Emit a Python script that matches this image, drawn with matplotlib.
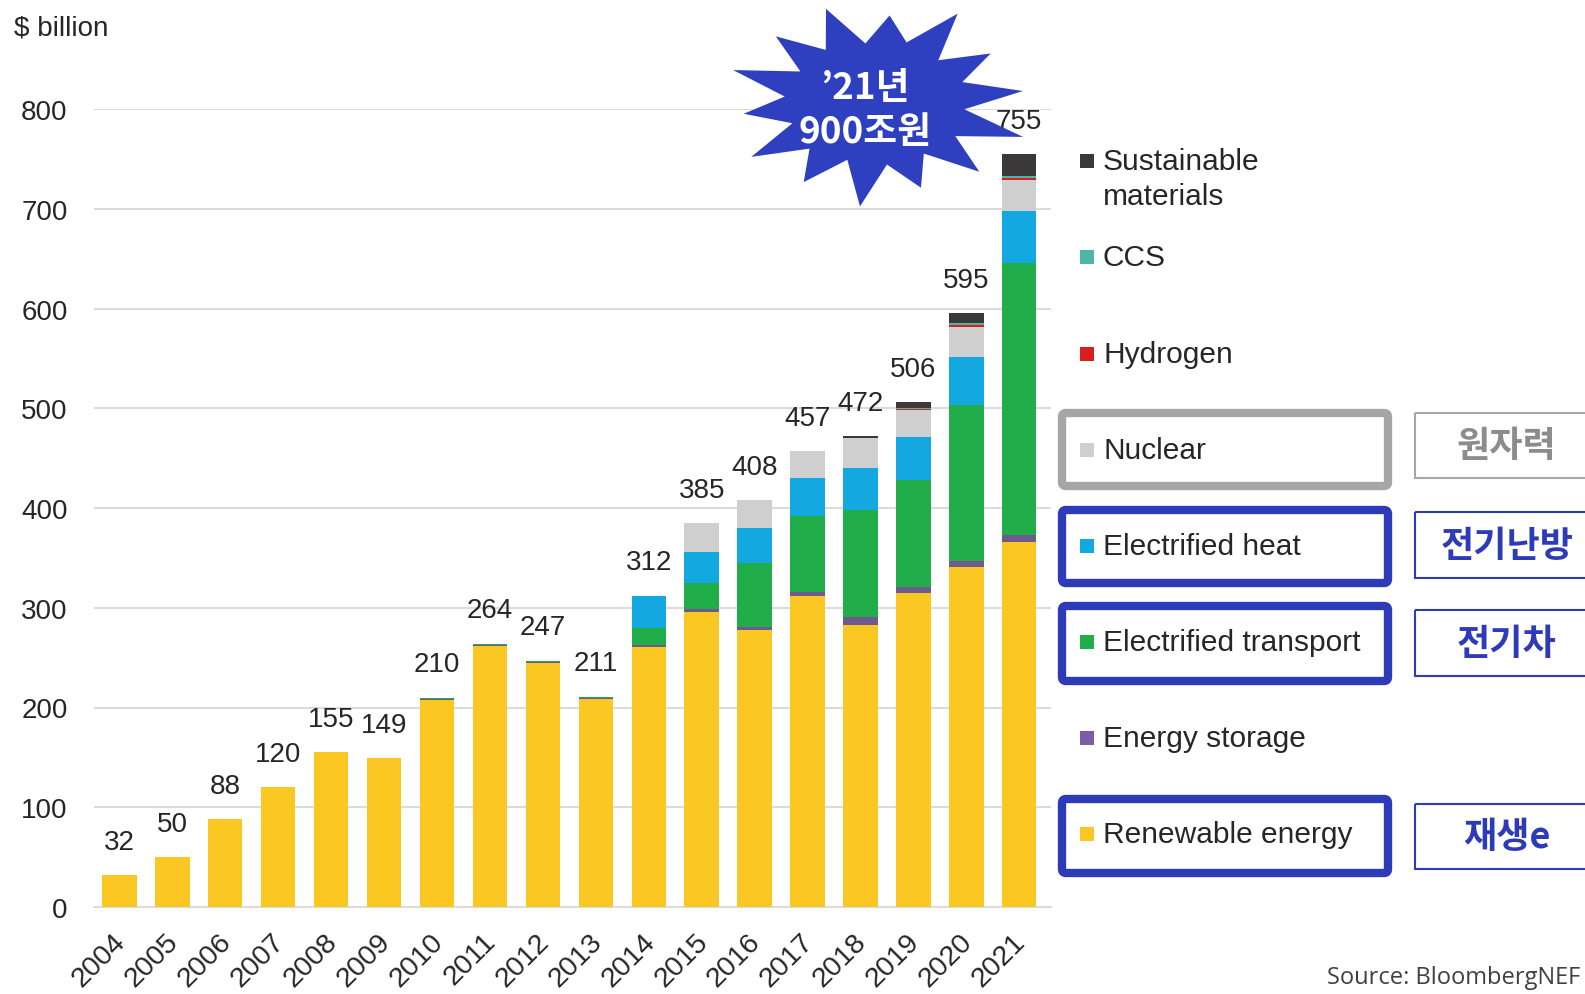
import numpy as np
import matplotlib
matplotlib.use("Agg")
import matplotlib.pyplot as plt
from matplotlib.patches import Rectangle, FancyBboxPatch, Polygon

# ── data ($ billion) ──────────────────────────────────────────────────────────
years = [str(y) for y in range(2004, 2022)]
totals = [32, 50, 88, 120, 155, 149, 210, 264, 247, 211, 312, 385, 408, 457, 472, 506, 595, 755]

renewable   = [32, 50, 88, 120, 155, 149, 208, 262, 245, 209, 261, 296, 278, 312, 283, 315, 341, 366]
storage     = [0, 0, 0, 0, 0, 0, 1, 1, 1, 1, 2, 3, 3, 4, 8, 6, 6, 7]
transport   = [0, 0, 0, 0, 0, 0, 1, 1, 1, 1, 17, 26, 64, 76, 107, 107, 156, 273]
heat        = [0, 0, 0, 0, 0, 0, 0, 0, 0, 0, 32, 31, 35, 38, 42, 43, 48, 52]
nuclear     = [0, 0, 0, 0, 0, 0, 0, 0, 0, 0, 0, 29, 28, 27, 30, 27, 30, 31]
hydrogen    = [0, 0, 0, 0, 0, 0, 0, 0, 0, 0, 0, 0, 0, 0, 0, 1, 2, 2]
ccs         = [0, 0, 0, 0, 0, 0, 0, 0, 0, 0, 0, 0, 0, 0, 0, 1, 2, 2]
sustainable = [0, 0, 0, 0, 0, 0, 0, 0, 0, 0, 0, 0, 0, 0, 2, 6, 10, 22]

series = [
    ("Renewable energy", renewable, "#FAC723"),
    ("Energy storage", storage, "#6E5A8C"),
    ("Electrified transport", transport, "#21AE4A"),
    ("Electrified heat", heat, "#14A8E0"),
    ("Nuclear", nuclear, "#D0CFCF"),
    ("Hydrogen", hydrogen, "#D81E1E"),
    ("CCS", ccs, "#4DB6A9"),
    ("Sustainable\nmaterials", sustainable, "#3A3838"),
]
legend_sq = {"Energy storage": "#7B5CA6"}

korean_tags = ["원자력", "전기난방", "전기차", "재생e"]

# ── style ─────────────────────────────────────────────────────────────────────
plt.rcParams["font.family"] = ["Liberation Sans", "Noto Sans CJK KR", "DejaVu Sans"]
TXT = "#262626"
BLUE = "#2E3BB8"
GRID = "#DCDCDC"

W, H = 1585, 995
fig = plt.figure(figsize=(W / 100, H / 100), dpi=100)
fig.patch.set_facecolor("white")

ax = fig.add_axes([94 / W, 1 - 908 / H, (1051 - 94) / W, (908 - 110) / H])
x = np.arange(len(years))
bottom = np.zeros(len(years))
for name, vals, col in series:
    v = np.array(vals, dtype=float)
    ax.bar(x, v, bottom=bottom, width=0.65, color=col, zorder=3, linewidth=0)
    bottom += v

for xi, t in zip(x, totals):
    ax.annotate(str(t), (xi, t), xytext=(0, 24), textcoords="offset points",
                ha="center", va="center", fontsize=20, color=TXT, zorder=4)

ax.set_xlim(-0.48, len(years) - 0.4)
ax.set_ylim(0, 800)
ax.set_yticks(range(0, 801, 100))
ax.set_xticks(x)
ax.set_xticklabels([])
# rotated year labels placed by hand so they sit like the original
for xi, yr in zip(x, years):
    ax.annotate(yr, (xi, 0), xytext=(-5, -15), textcoords="offset points",
                rotation=45, ha="right", va="top", rotation_mode="anchor",
                fontsize=20.5, color=TXT, annotation_clip=False)
ax.tick_params(axis="y", length=0, pad=19, labelsize=20, labelcolor=TXT)
ax.tick_params(axis="x", length=0)
ax.yaxis.grid(True, color=GRID, linewidth=1.5, zorder=0)
for s in ["top", "right", "left"]:
    ax.spines[s].set_visible(False)
ax.spines["bottom"].set_color(GRID)
ax.spines["bottom"].set_linewidth(1.5)

# ── overlay in pixel coordinates ──────────────────────────────────────────────
ov = fig.add_axes([0, 0, 1, 1], zorder=5)
ov.set_xlim(0, W)
ov.set_ylim(H, 0)
ov.axis("off")
ov.patch.set_alpha(0)

ov.text(14, 28, "$ billion", fontsize=20, color=TXT, ha="left", va="center")

# legend
leg_y = [835, 739, 643, 547, 451, 355, 258, 162]
for (name, vals, col), ly in zip(series, leg_y):
    c = legend_sq.get(name, col)
    ov.add_patch(Rectangle((1080, ly - 7), 14, 14, color=c, lw=0))
    ov.text(1103, ly, name.split("\n")[0], fontsize=21.5, color=TXT, ha="left", va="center")
    if "\n" in name:
        ov.text(1103, ly + 35, name.split("\n")[1], fontsize=21.5, color=TXT,
                ha="left", va="center")

# highlight boxes around legend entries
boxes = [(410, 491, "#A6A6A6"), (507, 588, BLUE), (603, 686, BLUE), (796, 878, BLUE)]
for y0, y1, c in boxes:
    ov.add_patch(FancyBboxPatch((1062, y0 + 4), 1388 - 1062, y1 - y0 - 8,
                                boxstyle="round,pad=0,rounding_size=4",
                                fill=False, ec=c, lw=6))

# Korean tags
tag_boxes = [(414, 479, "#A6A6A6", "#8C8C8C"), (513, 579, BLUE, BLUE),
             (611, 677, BLUE, BLUE), (805, 870, BLUE, BLUE)]
for (y0, y1, ec, tc), tag in zip(tag_boxes, korean_tags):
    ov.add_patch(Rectangle((1415, y0), 300, y1 - y0, fill=False, ec=ec, lw=1.5))
    ov.text(1507, (y0 + y1) / 2, tag, fontsize=26, fontweight="bold", color=tc,
            family="Noto Sans CJK KR", ha="center", va="center")

# starburst
n_pts = 14
ang = np.linspace(0, 2 * np.pi, 2 * n_pts, endpoint=False) + 0.12
rf = np.array([1.0, 0.62, 0.92, 0.6, 1.05, 0.64, 0.88, 0.6, 1.0, 0.63, 0.95, 0.6, 1.02, 0.62,
               0.9, 0.6, 1.0, 0.64, 0.93, 0.6, 1.04, 0.62, 0.9, 0.6, 0.98, 0.63, 1.05, 0.6])
sx = 876 + 148 * rf * np.cos(ang)
sy = 104 - 100 * rf * np.sin(ang)
ov.add_patch(Polygon(np.column_stack([sx, sy]), closed=True, fc="#2E3FBF", ec="none"))
ov.text(865, 89, "’21년", fontsize=26.5, fontweight="bold", color="white",
        family="Noto Sans CJK KR", ha="center", va="center")
ov.text(865, 132, "900조원", fontsize=26.5, fontweight="bold", color="white",
        family="Noto Sans CJK KR", ha="center", va="center")

ov.text(1580, 978, "Source: BloombergNEF", fontsize=17, color="#404040",
        family="Open Sans", ha="right", va="center")

fig.savefig("out.png", dpi=100, facecolor="white")
